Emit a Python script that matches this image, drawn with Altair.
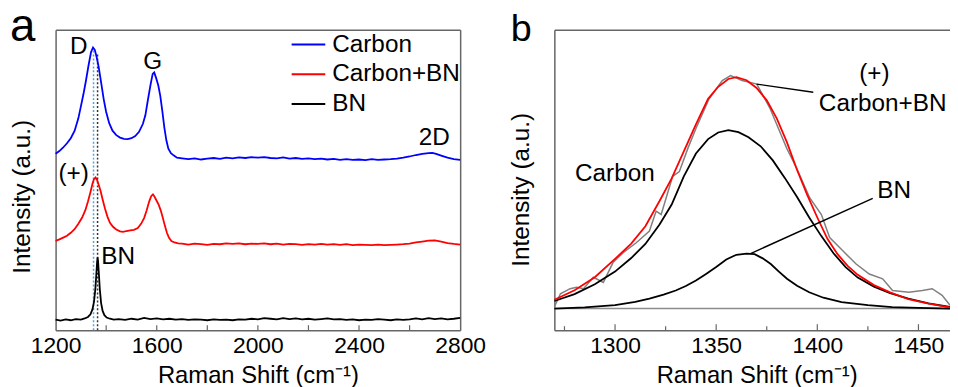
import altair as alt
import pandas as pd

# ---------------- Panel a: Raman spectra (offset, arbitrary units) ----------------
carbon_x = [1200, 1215, 1230, 1245, 1260, 1275, 1290, 1300, 1310, 1320, 1330, 1340, 1348, 1355, 1362,
            1370, 1380, 1390, 1400, 1412, 1425, 1440, 1455, 1470, 1485, 1500, 1515, 1530, 1545, 1555,
            1565, 1575, 1584, 1590, 1598, 1606, 1614, 1622, 1630, 1638, 1646, 1656, 1668, 1680, 1700,
            1725, 1750, 1775, 1800, 1825, 1850, 1875, 1900, 1925, 1950, 1975, 2000, 2025, 2050, 2075,
            2100, 2125, 2150, 2175, 2200, 2225, 2250, 2275, 2300, 2325, 2350, 2375, 2400, 2425, 2450,
            2475, 2500, 2525, 2550, 2575, 2600, 2625, 2650, 2675, 2690, 2705, 2725, 2750, 2775, 2800]
carbon_y = [58.7, 59.6, 60.8, 62.2, 63.9, 66.3, 70.5, 74.5, 78.5, 83.0, 88.0, 92.5, 94.1, 93.3, 91.0,
            87.8, 82.5, 77.0, 72.6, 68.9, 66.4, 64.9, 64.1, 63.7, 63.6, 63.9, 64.6, 66.0, 68.6, 71.5,
            76.6, 81.5, 85.3, 85.8, 83.8, 81.5, 78.0, 73.0, 67.5, 63.2, 60.4, 58.9, 58.1, 57.4, 57.2,
            56.9, 57.2, 56.8, 57.1, 57.3, 57.0, 57.4, 57.2, 57.5, 57.3, 57.6, 57.4, 57.6, 57.3, 57.2,
            57.5, 57.1, 57.3, 57.0, 57.2, 56.9, 57.1, 56.8, 57.0, 56.7, 56.9, 56.7, 56.8, 56.6, 56.9,
            56.7, 56.8, 56.9, 57.1, 57.4, 57.8, 58.3, 58.7, 58.9, 59.0, 58.7, 58.1, 57.4, 56.9, 56.7]

cbn_x = [1200, 1215, 1230, 1245, 1260, 1275, 1290, 1305, 1318, 1328, 1338, 1346, 1352, 1358, 1364,
         1370, 1378, 1386, 1395, 1405, 1415, 1427, 1440, 1455, 1467, 1480, 1495, 1510, 1525, 1538,
         1550, 1560, 1570, 1578, 1585, 1592, 1600, 1608, 1616, 1624, 1632, 1640, 1648, 1658, 1670,
         1685, 1700, 1725, 1750, 1775, 1800, 1825, 1850, 1875, 1900, 1925, 1950, 1975, 2000, 2025,
         2050, 2075, 2100, 2125, 2150, 2175, 2200, 2225, 2250, 2275, 2300, 2325, 2350, 2375, 2400,
         2425, 2450, 2475, 2500, 2525, 2550, 2575, 2600, 2625, 2650, 2675, 2700, 2725, 2750, 2775, 2800]
cbn_y = [29.7, 30.2, 30.8, 31.4, 32.4, 33.6, 35.4, 37.5, 40.0, 42.8, 46.0, 48.8, 50.3, 50.8, 50.0,
         48.5, 46.3, 43.5, 40.6, 37.8, 35.7, 34.4, 33.5, 32.9, 32.7, 33.0, 33.2, 33.4, 34.0, 35.4,
         37.3, 39.8, 42.8, 44.6, 45.2, 44.3, 43.0, 41.7, 39.8, 37.4, 34.8, 32.5, 30.8, 29.7, 29.2,
         28.9, 28.8, 28.5, 28.8, 28.6, 28.4, 28.7, 28.6, 28.9, 28.7, 28.9, 28.6, 28.8, 28.7, 28.9,
         28.6, 28.8, 28.5, 28.7, 28.6, 28.4, 28.6, 28.5, 28.7, 28.5, 28.6, 28.4, 28.6, 28.3, 28.5,
         28.4, 28.3, 28.5, 28.3, 28.4, 28.5, 28.6, 28.8, 29.2, 29.5, 29.8, 29.9, 29.5, 29.0, 28.7, 28.5]

bn_x = [1200, 1220, 1240, 1260, 1280, 1300, 1315, 1328, 1338, 1346, 1352, 1357, 1361, 1364, 1366,
        1368, 1371, 1375, 1380, 1386, 1393, 1402, 1415, 1430, 1450, 1475, 1500, 1525, 1550, 1575,
        1600, 1625, 1650, 1675, 1700, 1725, 1750, 1775, 1800, 1825, 1850, 1875, 1900, 1925, 1950,
        1975, 2000, 2025, 2050, 2075, 2100, 2125, 2150, 2175, 2200, 2225, 2250, 2275, 2300, 2325,
        2350, 2375, 2400, 2425, 2450, 2475, 2500, 2525, 2550, 2575, 2600, 2625, 2650, 2675, 2700,
        2725, 2750, 2775, 2800]
bn_y = [3.5, 3.2, 3.6, 3.3, 3.7, 3.5, 3.9, 4.4, 5.3, 7.0, 9.5, 13.5, 18.5, 22.5, 24.2,
        23.0, 19.0, 13.5, 9.0, 6.4, 5.0, 4.2, 3.8, 3.5, 3.7, 3.4, 3.8, 3.5, 4.1, 3.7,
        3.9, 3.6, 3.8, 3.5, 3.7, 3.4, 3.6, 3.5, 3.3, 3.6, 3.4, 3.5, 3.3, 3.6, 3.5,
        3.8, 3.6, 4.0, 3.8, 3.6, 4.0, 3.7, 3.9, 3.6, 3.8, 3.5, 3.7, 3.9, 3.6, 3.7,
        3.4, 3.6, 3.3, 3.5, 3.4, 3.7, 3.5, 3.3, 3.6, 3.4, 3.6, 3.9, 3.6, 4.0, 3.7,
        3.9, 3.6, 3.8, 4.1]

series_names = ["Carbon", "Carbon+BN", "BN"]
series_colors = ["#0000ff", "#ff0000", "#000000"]

# dotted guide lines (D position of Carbon, BN peak)
guide_x = [1350, 1366]
guide_top = [93.5, 92.0]

a_ann_text = ["D", "G", "2D", "(+)", "BN"]
a_ann_x = [1292, 1584, 2698, 1271, 1447]
a_ann_y = [94.1, 89.3, 63.8, 52.0, 24.2]

a_label_values = [1200, 1600, 2000, 2400, 2800]
a_tick_values = [1400, 1600, 1800, 2000, 2200, 2400, 2600]

# ---------------- Panel b: peak fitting ----------------
fit_x = [1270, 1280, 1290, 1300, 1308, 1315, 1322, 1328, 1334, 1340, 1346, 1351, 1356, 1360, 1365,
         1370, 1375, 1380, 1385, 1390, 1395, 1400, 1405, 1410, 1415, 1420, 1428, 1436, 1445, 1455, 1465.6]
fit_y = [10.1, 13.3, 17.6, 23.7, 28.8, 34.6, 43.0, 50.5, 59.5, 68.5, 77.0, 81.0, 83.6, 84.2, 83.2,
         80.6, 76.5, 70.4, 62.5, 53.3, 45.0, 37.5, 30.4, 25.3, 21.4, 18.4, 15.0, 12.6, 10.3, 8.8, 7.6]

cpk_x = [1270, 1280, 1290, 1300, 1308, 1315, 1322, 1328, 1334, 1340, 1346, 1351, 1356, 1361, 1366,
         1372, 1378, 1384, 1390, 1396, 1402, 1408, 1414, 1420, 1428, 1436, 1445, 1455, 1465.6]
cpk_y = [9.7, 12.0, 15.3, 19.5, 24.0, 28.7, 35.2, 41.8, 51.2, 58.8, 63.6, 65.8, 66.6, 65.9, 64.2,
         61.2, 56.5, 50.6, 44.3, 37.5, 31.3, 25.6, 21.0, 17.5, 14.5, 12.3, 10.5, 8.9, 7.7]

bpk_x = [1270, 1285, 1300, 1310, 1317, 1324, 1330, 1335, 1340, 1345, 1350, 1355, 1360, 1365, 1369,
         1373, 1377, 1381, 1385, 1390, 1396, 1403, 1412, 1425, 1437, 1450, 1465.6]
bpk_y = [7.2, 7.6, 8.3, 9.4, 10.5, 11.8, 13.2, 14.7, 16.5, 18.7, 21.0, 23.5, 25.1, 25.5, 25.3,
         23.9, 22.0, 19.5, 17.1, 14.8, 12.6, 10.8, 9.3, 8.3, 7.7, 7.4, 7.2]

raw_x = [1270, 1273, 1277.8, 1281, 1284.4, 1289.3, 1294.2, 1299, 1304, 1310.5, 1317, 1320.3, 1322.8,
         1328.5, 1331.8, 1336, 1340, 1346.5, 1353, 1357.1, 1362.8, 1370.1, 1376.7, 1384.9, 1389.8,
         1396.3, 1402, 1406.1, 1412.6, 1419.2, 1425.7, 1432.3, 1437.2, 1445.3, 1451.9, 1456.8, 1461.7, 1465.6]
raw_y = [7.7, 12.1, 13.8, 14.3, 13.8, 17.6, 15.9, 22.5, 25.8, 29.1, 33.0, 39.6, 38.5,
         51.2, 52.8, 60.5, 67.1, 77.0, 83.1, 84.7, 83.1, 81.9, 73.7, 60.5, 53.9,
         44.0, 38.5, 30.8, 26.4, 22.0, 18.7, 17.1, 13.2, 12.6, 13.2, 13.8, 11.6, 8.3]

base_x = [1270, 1465.6]
base_y = [7.2, 7.2]

lead_id = ["fit", "fit", "bn", "bn"]
lead_x = [1370, 1398, 1367, 1427.4]
lead_y = [81.9, 79.2, 25.5, 43.9]

b_ann_text = ["(+)", "Carbon+BN", "Carbon", "BN"]
b_ann_x = [1428.2, 1432.3, 1299.9, 1438]
b_ann_y = [85.2, 75.3, 51.8, 46.2]

b_label_values = [1300, 1350, 1400, 1450]
b_major_ticks = [1300, 1350, 1400, 1450]
b_minor_ticks = [1275, 1325, 1375, 1425]

FONT = "Liberation Sans"
FS_TICK = 23
FS_TXT = 24.5
FS_XT = 24
FS_YT = 24.5
FRAME = "#666666"
W, H = 408, 303
WB = 399
XTITLE = "Raman Shift (cm⁻¹)"
YTITLE = "Intensity (a.u.)"

# ---------------- build panel a ----------------
spec_a = pd.concat([
    pd.DataFrame({"x": carbon_x, "y": carbon_y, "series": "Carbon"}),
    pd.DataFrame({"x": cbn_x, "y": cbn_y, "series": "Carbon+BN"}),
    pd.DataFrame({"x": bn_x, "y": bn_y, "series": "BN"}),
])
xs_a = alt.Scale(domain=[1200, 2800], nice=False, zero=False)
ys = alt.Scale(domain=[0, 100], nice=False, zero=False)

lines_a = alt.Chart(spec_a).mark_line(strokeWidth=1.8).encode(
    x=alt.X("x:Q", scale=xs_a, axis=alt.Axis(values=a_label_values, format="d", ticks=False, grid=False,
            domain=True, domainColor=FRAME, domainWidth=1.5, labelFlush=False, labelPadding=5,
            labelFontSize=FS_TICK, title=XTITLE, titleFontSize=FS_XT, titlePadding=6)),
    y=alt.Y("y:Q", scale=ys, axis=alt.Axis(labels=False, ticks=False, grid=False, domain=True,
            domainColor=FRAME, domainWidth=1.5, title=YTITLE, titleFontSize=FS_YT,
            titlePadding=21, titleY=168)),
    color=alt.Color("series:N", sort=series_names,
                    scale=alt.Scale(domain=series_names, range=series_colors),
                    legend=alt.Legend(orient="none", legendX=237, legendY=-3, title=None,
                                      symbolType="stroke", symbolSize=1150, symbolStrokeWidth=2,
                                      labelFontSize=FS_TXT, labelFont=FONT, labelColor="black",
                                      labelOffset=6, rowPadding=0, padding=0)),
)

frame_a = alt.Chart(spec_a).mark_line(opacity=0).encode(
    x=alt.X("x:Q", scale=xs_a, axis=alt.Axis(orient="top", labels=False, ticks=False, grid=False,
            title=None, domainColor=FRAME, domainWidth=1.5)),
    y=alt.Y("y:Q", scale=ys, axis=alt.Axis(orient="right", labels=False, ticks=False, grid=False,
            title=None, domainColor=FRAME, domainWidth=1.5)),
    detail="series:N",
)

guides = pd.DataFrame({"x": guide_x, "top": guide_top, "bottom": [0, 0]})
guide_blue = alt.Chart(guides.iloc[[0]]).mark_rule(color="#4da3e8", strokeWidth=1.5, strokeDash=[2, 2]).encode(
    x=alt.X("x:Q", scale=xs_a, axis=None), y=alt.Y("bottom:Q", scale=ys, axis=None), y2="top:Q")
guide_black = alt.Chart(guides.iloc[[1]]).mark_rule(color="#333333", strokeWidth=1.5, strokeDash=[2, 2]).encode(
    x=alt.X("x:Q", scale=xs_a, axis=None), y=alt.Y("bottom:Q", scale=ys, axis=None), y2="top:Q")

ticks_a = alt.Chart(pd.DataFrame({"t": a_tick_values})).mark_rule(color=FRAME, strokeWidth=1.2).encode(
    x=alt.X("t:Q", scale=xs_a, axis=None), y=alt.value(H), y2=alt.value(H - 5))

ann_a = alt.Chart(pd.DataFrame({"x": a_ann_x, "y": a_ann_y, "t": a_ann_text})).mark_text(
    font=FONT, fontSize=FS_TXT, color="black", baseline="middle").encode(
    x=alt.X("x:Q", scale=xs_a, axis=None), y=alt.Y("y:Q", scale=ys, axis=None), text="t:N")

letter_a = alt.Chart(pd.DataFrame({"t": ["a"]})).mark_text(
    font="Liberation Sans", fontSize=46, color="black", align="left", baseline="alphabetic").encode(
    text="t:N", x=alt.value(-46), y=alt.value(11))

panel_a = alt.layer(guide_blue, guide_black, lines_a, frame_a, ticks_a, ann_a, letter_a).resolve_axis(
    x="independent", y="independent").properties(width=W, height=H)

# ---------------- build panel b ----------------
xs_b = alt.Scale(domain=[1270, 1465.6], nice=False, zero=False)

def curve(xv, yv, color, width, axis_x=None, axis_y=None):
    return alt.Chart(pd.DataFrame({"x": xv, "y": yv})).mark_line(color=color, strokeWidth=width).encode(
        x=alt.X("x:Q", scale=xs_b, axis=axis_x), y=alt.Y("y:Q", scale=ys, axis=axis_y))

base_b = curve(base_x, base_y, "#8c8c8c", 1.5,
               axis_x=alt.Axis(values=b_label_values, format="d", ticks=False, grid=False, domain=True,
                               domainColor=FRAME, domainWidth=1.5, labelFlush=False, labelPadding=5,
                               labelFontSize=FS_TICK, title=XTITLE, titleFontSize=FS_XT,
                               titlePadding=6, titleX=204),
               axis_y=alt.Axis(labels=False, ticks=False, grid=False, domain=True, domainColor=FRAME,
                               domainWidth=1.5, title=YTITLE, titleFontSize=FS_YT, titlePadding=21,
                               titleY=161))
top_b = alt.Chart(pd.DataFrame({"x": base_x, "y": base_y})).mark_line(opacity=0).encode(
    x=alt.X("x:Q", scale=xs_b, axis=alt.Axis(orient="top", labels=False, ticks=False, grid=False,
            title=None, domainColor=FRAME, domainWidth=1.5)),
    y=alt.Y("y:Q", scale=ys, axis=None))
raw_b = curve(raw_x, raw_y, "#808080", 1.5)
cpk_b = curve(cpk_x, cpk_y, "black", 1.8)
bpk_b = curve(bpk_x, bpk_y, "black", 1.8)
fit_b = curve(fit_x, fit_y, "#ff0000", 1.8)

leaders = alt.Chart(pd.DataFrame({"id": lead_id, "x": lead_x, "y": lead_y})).mark_line(
    color="black", strokeWidth=1.4).encode(
    x=alt.X("x:Q", scale=xs_b, axis=None), y=alt.Y("y:Q", scale=ys, axis=None), detail="id:N")

ticks_b_major = alt.Chart(pd.DataFrame({"t": b_major_ticks})).mark_rule(color=FRAME, strokeWidth=1.2).encode(
    x=alt.X("t:Q", scale=xs_b, axis=None), y=alt.value(H), y2=alt.value(H - 6))
ticks_b_minor = alt.Chart(pd.DataFrame({"t": b_minor_ticks})).mark_rule(color=FRAME, strokeWidth=1.2).encode(
    x=alt.X("t:Q", scale=xs_b, axis=None), y=alt.value(H), y2=alt.value(H - 4))

ann_b = alt.Chart(pd.DataFrame({"x": b_ann_x, "y": b_ann_y, "t": b_ann_text})).mark_text(
    font=FONT, fontSize=FS_TXT, color="black", baseline="middle").encode(
    x=alt.X("x:Q", scale=xs_b, axis=None), y=alt.Y("y:Q", scale=ys, axis=None), text="t:N")

letter_b = alt.Chart(pd.DataFrame({"t": ["b"]})).mark_text(
    font="Liberation Sans", fontSize=38, color="black", align="left", baseline="alphabetic").encode(
    text="t:N", x=alt.value(-44), y=alt.value(11))

panel_b = alt.layer(base_b, top_b, raw_b, cpk_b, bpk_b, fit_b, leaders, ticks_b_major, ticks_b_minor,
                    ann_b, letter_b).resolve_axis(x="independent", y="independent").properties(width=WB, height=H)

chart = alt.hconcat(panel_a, panel_b, spacing=95, bounds="flush").properties(
    autosize=alt.AutoSizeParams(type="none"),
    padding={"left": 48, "top": 19, "right": 902, "bottom": 360},
).configure(font=FONT).configure_view(strokeWidth=0).configure_axis(
    labelFont=FONT, titleFont=FONT, labelColor="black", titleColor="black", titleFontWeight="normal")

chart.save("out.html", embed_options={"renderer": "svg", "actions": False})
